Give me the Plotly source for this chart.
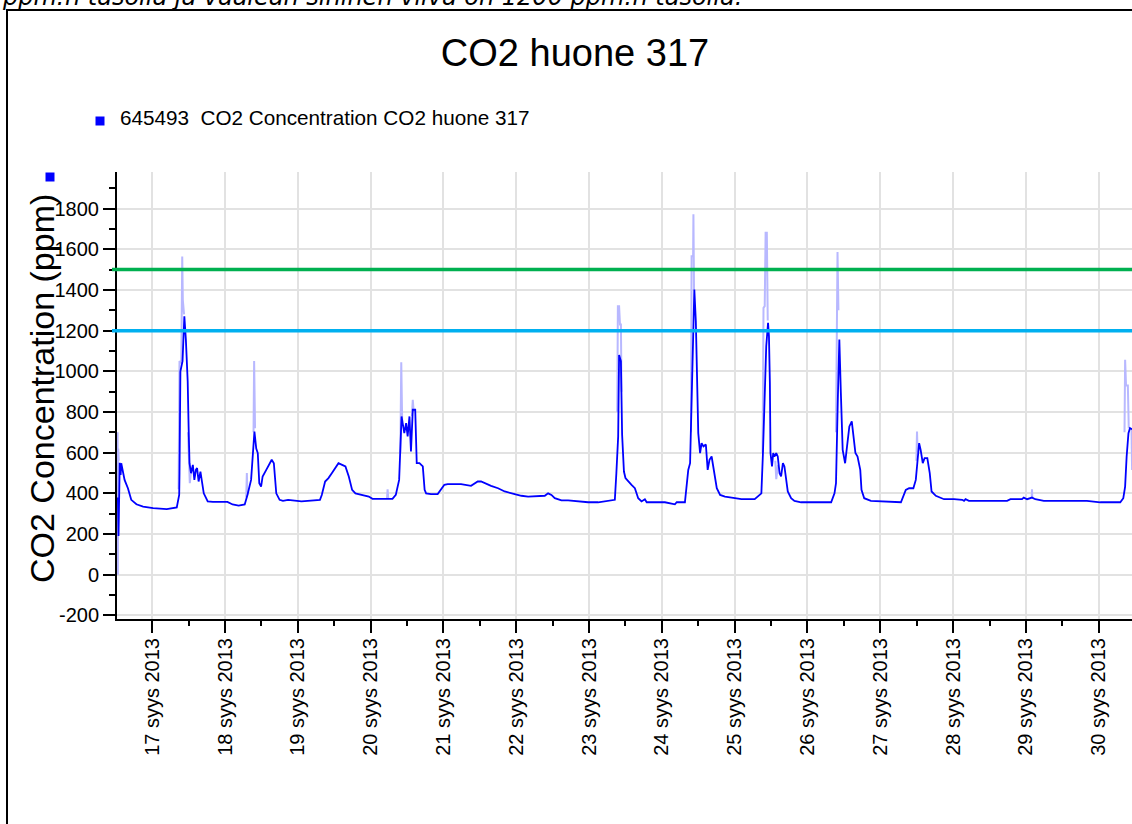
import datetime as dt
import plotly.graph_objects as go

# ── Data ──────────────────────────────────────────────────────────────────────

START = dt.datetime(2013, 9, 16)  # hours below are counted from 16.9.2013 00:00

co2_hours = [
    12.7, 12.9, 13.3, 13.6, 13.8, 14.9, 16.0, 17.1, 18.8, 21.0, 24.3, 28.8, 32.1, 32.9,
    33.0, 33.3, 34.0, 34.6, 35.1, 35.7, 36.0, 36.3, 36.8, 37.4, 37.9, 38.4, 38.8, 39.3,
    39.9, 41.0, 42.3, 44.0, 48.8, 50.5, 52.5, 54.5, 55.4, 56.6, 57.7, 58.3, 58.8, 59.3,
    59.9, 60.4, 61.6, 62.7, 63.4, 64.1, 64.9, 66.0, 67.1, 68.8, 73.2, 79.3, 79.9, 81.0,
    82.1, 83.2, 84.3, 85.4, 86.6, 87.7, 88.8, 89.9, 91.0, 93.2, 95.4, 96.6, 103.2, 104.3,
    105.4, 106.2, 107.1, 107.7, 108.2, 108.8, 109.3, 109.9, 110.7, 111.2, 112.1, 113.2,
    113.8, 114.3, 115.9, 118.1, 119.0, 120.3, 121.4, 125.8, 129.1, 131.3, 132.4, 133.5,
    135.7, 138.0, 140.2, 143.5, 145.7, 147.9, 153.4, 154.5, 155.6, 156.7, 158.9, 161.1,
    165.5, 167.7, 171.0, 175.4, 176.5, 177.0, 177.6, 177.9, 178.5, 178.9, 179.5, 180.0,
    180.9, 182.0, 183.1, 184.2, 185.3, 186.4, 187.0, 193.0, 196.3, 196.9, 199.6, 200.2,
    200.7, 201.3, 201.8, 202.4, 202.7, 203.2, 203.6, 204.0, 204.6, 205.1, 205.7, 206.5,
    207.1, 207.7, 208.4, 209.2, 210.1, 211.2, 212.8, 215.0, 217.2, 218.2, 222.6, 223.7,
    224.8, 225.3, 225.9, 226.4, 227.0, 227.3, 227.6, 227.8, 228.3, 228.7, 229.1, 229.7,
    230.2, 230.8, 231.3, 231.9, 232.4, 233.0, 233.5, 234.6, 235.7, 237.9, 247.8, 248.9,
    249.4, 250.0, 250.5, 251.0, 251.6, 252.4, 253.0, 253.8, 254.6, 255.2, 255.8, 256.5,
    257.4, 257.8, 258.7, 260.9, 264.2, 267.5, 270.8, 272.4, 273.5, 274.9, 275.7, 276.2,
    276.8, 277.3, 278.0, 278.6, 279.5, 280.3, 280.9, 282.3, 285.0, 288.3, 291.0, 291.6,
    292.1, 293.2, 299.2, 305.8, 306.9, 310.7, 311.3, 312.4, 314.0, 315.1, 317.9, 321.1,
    332.1, 336.5, 343.1, 344.1, 344.7, 345.2, 345.8, 346.3, 347.0,
]
co2_ppm = [
    380, 190, 550, 490, 548, 466, 425, 368, 346, 335, 327, 322, 331, 392,
    500, 1000, 1050, 1271, 1156, 951, 729, 548, 499, 540, 466, 515, 524, 458,
    507, 400, 360, 358, 358, 345, 340, 345, 392, 466, 704, 620, 598, 450,
    433, 483, 515, 548, 565, 548, 400, 368, 363, 368, 360, 368, 392, 458,
    475, 499, 524, 548, 540, 532, 483, 417, 400, 392, 384, 373, 373, 392,
    466, 778, 696, 745, 680, 778, 606, 811, 811, 548, 548, 532,
    417, 400, 396, 396, 417, 442, 445, 445, 437, 458, 458, 450,
    437, 425, 409, 396, 388, 384, 388, 400, 392, 376, 365, 365,
    360, 356, 356, 363, 368, 499, 680, 1080, 1050, 688, 507, 475,
    458, 442, 425, 376, 360, 371, 356, 356, 346, 356, 356, 433,
    515, 548, 877, 1304, 1402, 1246, 943, 696, 598, 647, 631, 640,
    515, 565, 581, 507, 425, 392, 384, 379, 376, 371, 371, 384,
    400, 590, 877, 1123, 1238, 1172, 943, 598, 532, 598, 581, 598,
    581, 499, 483, 548, 532, 466, 409, 376, 363, 356, 356, 400,
    450, 861, 1156, 894, 614, 548, 614, 729, 754, 680, 598, 581,
    515, 417, 376, 363, 360, 356, 356, 417, 425, 425, 466, 548,
    647, 614, 548, 573, 573, 499, 409, 388, 371, 371, 368, 363,
    371, 363, 363, 363, 371, 371, 379, 371, 379, 371, 363, 363,
    363, 356, 356, 376, 433, 581, 696, 721, 715,
]

# short-lived peaks drawn in a pale colour behind the main series
max_hours = [
    12.6, 12.7, 12.8, 13.0, None,
    32.7, 33.0, 33.6, 33.9, 34.1, 34.5, None,
    35.8, 36.4, 36.9, None,
    55.0, 55.2, 55.4, None,
    57.4, 57.6, 57.9, None,
    101.4, 101.6, 101.8, None,
    105.8, 106.1, 106.4, None,
    109.6, 109.9, 110.2, None,
    177.3, 177.5, 177.9, 178.2, 178.5, 178.7, None,
    201.6, 201.8, 202.3, 202.4, 202.6, None,
    225.2, 225.5, 225.9, 226.2, 226.6, 226.9, None,
    229.4, 229.7, 230.3, None,
    249.4, 249.7, 249.9, 250.2, None,
    275.9, 276.1, 276.3, None,
    313.9, 314.0, 314.1, None,
    344.5, 344.7, 345.0, 345.6, 345.9, None,
    346.8, 347.0,
]
max_ppm = [
    700, 0, 620, 560, None,
    420, 1050, 1040, 1565, 1350, 1280, None,
    700, 450, 520, None,
    380, 500, 392, None,
    700, 1050, 720, None,
    376, 420, 376, None,
    600, 1045, 750, None,
    780, 860, 800, None,
    800, 1320, 1320, 1230, 1230, 900, None,
    700, 1566, 1566, 1772, 1400, None,
    600, 1312, 1320, 1681, 1681, 1250, None,
    560, 470, 540, None,
    700, 1443, 1586, 1300, None,
    560, 704, 600, None,
    379, 420, 379, None,
    700, 1057, 930, 930, 720, None,
    720, 515,
]

LIMIT_GREEN = 1500
LIMIT_BLUE = 1200

tick_days = [17, 18, 19, 20, 21, 22, 23, 24, 25, 26, 27, 28, 29, 30]
y_ticks = [-200, 0, 200, 400, 600, 800, 1000, 1200, 1400, 1600, 1800]
y_minor = [-100, 100, 300, 500, 700, 900, 1100, 1300, 1500, 1700, 1900]

# ── Layout helpers ─────────────────────────────────────────────────────────────

W, H = 1132, 824
L, R, T, B = 117, 0, 172, 205
FONT = "Liberation Sans, Arial, sans-serif"


def px(x):
    return (x - L) / (W - L - R)


def py(y):
    return (H - B - y) / (H - T - B)


def to_time(hours):
    return [START + dt.timedelta(hours=h) if h is not None else None for h in hours]


tick_vals = [dt.datetime(2013, 9, d) for d in tick_days]
tick_text = [f"{d} syys 2013" for d in tick_days]
minor_vals = [dt.datetime(2013, 9, d - 1, 12) for d in tick_days] + [dt.datetime(2013, 9, 30, 12)]

# ── Figure ─────────────────────────────────────────────────────────────────────

fig = go.Figure()
fig.add_trace(go.Scatter(
    x=to_time(max_hours), y=max_ppm, mode="lines",
    line=dict(color="#b8b8ff", width=2), connectgaps=False, hoverinfo="skip",
))
fig.add_trace(go.Scatter(
    x=to_time(co2_hours), y=co2_ppm, mode="lines",
    line=dict(color="#0000ff", width=1.8),
    name="645493  CO2 Concentration CO2 huone 317",
))

axis_common = dict(
    showline=True, linecolor="black", linewidth=2,
    showgrid=True, gridcolor="#e2e2e2", gridwidth=2,
    ticks="outside", ticklen=12, tickwidth=2, tickcolor="black",
    zeroline=False, color="black",
)

fig.update_xaxes(
    type="date",
    range=[dt.datetime(2013, 9, 16, 12, 24), dt.datetime(2013, 9, 30, 10, 58)],
    tickmode="array", tickvals=tick_vals, ticktext=tick_text, tickangle=-90,
    tickfont=dict(family=FONT, size=20, color="black"),
    ticklabelstandoff=-3,
    minor=dict(tickmode="array", tickvals=minor_vals, ticks="outside", ticklen=5,
               tickcolor="black", tickwidth=2, showgrid=False),
    **axis_common,
)
fig.update_yaxes(
    range=[-218, 1980],
    tickmode="array", tickvals=y_ticks, ticktext=[str(v) for v in y_ticks],
    tickfont=dict(family=FONT, size=20, color="black"),
    minor=dict(tickmode="array", tickvals=y_minor, ticks="outside", ticklen=6,
               tickcolor="black", tickwidth=2, showgrid=False),
    **axis_common,
)

shapes = [
    # outer frame of the embedded picture
    dict(type="rect", xref="paper", yref="paper", x0=px(7), x1=px(1300),
         y0=py(1000), y1=py(10), line=dict(color="black", width=2), layer="above"),
    dict(type="line", xref="paper", yref="y", x0=px(112), x1=1, y0=LIMIT_GREEN, y1=LIMIT_GREEN,
         line=dict(color="#00b050", width=3.5), layer="above"),
    dict(type="line", xref="paper", yref="y", x0=px(112), x1=1, y0=LIMIT_BLUE, y1=LIMIT_BLUE,
         line=dict(color="#00b0f0", width=3.5), layer="above"),
    # legend marker and the small marker above the y axis
    dict(type="rect", xref="paper", yref="paper", x0=px(95.5), x1=px(104.5), y0=py(125.5), y1=py(116.5),
         fillcolor="#0000ff", line=dict(width=0)),
    dict(type="rect", xref="paper", yref="paper", x0=px(45.5), x1=px(54.5), y0=py(181.5), y1=py(172.5),
         fillcolor="#0000ff", line=dict(width=0)),
]

annotations = [
    dict(xref="paper", yref="paper", x=px(0), y=py(-3), xanchor="left", yanchor="middle",
         text="<i>ppm:n tasolla ja vaalean sininen viiva on 1200 ppm:n tasolla.</i>",
         showarrow=False, font=dict(family="DejaVu Sans, sans-serif", size=24, color="black")),
    dict(xref="paper", yref="paper", x=px(118), y=py(118), xanchor="left", yanchor="middle",
         text="645493\u00a0 CO2 Concentration CO2 huone 317", showarrow=False,
         font=dict(family=FONT, size=20.7, color="black")),
    dict(xref="paper", yref="paper", x=px(42), y=py(389), xanchor="center", yanchor="middle",
         text="CO2 Concentration (ppm)", textangle=-90, showarrow=False,
         font=dict(family=FONT, size=34, color="black")),
]

fig.update_layout(
    width=W, height=H,
    margin=dict(l=L, r=R, t=T, b=B, pad=0),
    paper_bgcolor="white", plot_bgcolor="white",
    showlegend=False,
    title=dict(text="CO2 huone 317", x=575 / W, y=1 - 53 / H, xanchor="center", yanchor="middle",
               font=dict(family=FONT, size=38, color="black")),
    shapes=shapes,
    annotations=annotations,
)

# the page gets the browser's default 8px body margin; drop it so the figure sits at 0,0
fig.write_html("out.html", config={"displayModeBar": False},
               post_script="document.body.style.margin = '0';")
